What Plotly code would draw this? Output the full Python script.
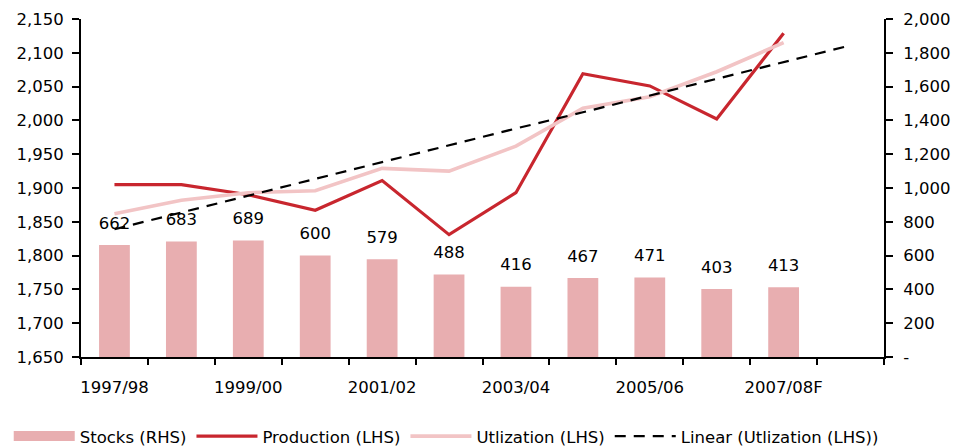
import plotly.graph_objects as go

categories = ["1997/98", "1998/99", "1999/00", "2000/01", "2001/02", "2002/03",
              "2003/04", "2004/05", "2005/06", "2006/07", "2007/08F", "2008/09F"]
tick_labels = ["1997/98", "", "1999/00", "", "2001/02", "", "2003/04", "",
               "2005/06", "", "2007/08F", ""]
stocks = [662, 683, 689, 600, 579, 488, 416, 467, 471, 403, 413]
production = [1905, 1905, 1890, 1867, 1911, 1831, 1893, 2069, 2051, 2002, 2129]
utilization = [1862, 1882, 1893, 1896, 1929, 1925, 1962, 2018, 2035, 2072, 2115]
linear_trend = [1839, 1864, 1889, 1913, 1938, 1963, 1988, 2012, 2037, 2062, 2087, 2111]
rhs_ticks = [0, 200, 400, 600, 800, 1000, 1200, 1400, 1600, 1800, 2000]
rhs_ticktext = ["-", "200", "400", "600", "800", "1,000", "1,200", "1,400", "1,600", "1,800", "2,000"]
lhs_ticks = [1650, 1700, 1750, 1800, 1850, 1900, 1950, 2000, 2050, 2100, 2150]

FONT = "DejaVu Sans"
FS = 16.5
BAR_COLOR = "#E8AEB0"
fig = go.Figure()

fig.add_trace(go.Bar(
    x=categories[:len(stocks)], y=stocks, name="Stocks (RHS)",
    marker=dict(color=BAR_COLOR, line=dict(width=0)), width=0.46,
    yaxis="y", showlegend=False,
))
fig.add_trace(go.Scatter(
    x=categories[:len(stocks)], y=stocks, mode="markers+text",
    text=[str(v) for v in stocks], textposition="top center",
    textfont=dict(family=FONT, size=FS, color="#000000"),
    marker=dict(size=18, opacity=0), yaxis="y", showlegend=False, hoverinfo="skip",
    cliponaxis=False,
))
# legend proxy for the bar series (wide swatch)
fig.add_trace(go.Scatter(
    x=[None], y=[None], name="Stocks (RHS)", mode="lines",
    line=dict(color=BAR_COLOR, width=12), yaxis="y", showlegend=True,
))
fig.add_trace(go.Scatter(
    x=categories[:len(production)], y=production, name="Production (LHS)",
    mode="lines", line=dict(color="#C8262E", width=3.2), yaxis="y2",
))
fig.add_trace(go.Scatter(
    x=categories[:len(utilization)], y=utilization, name="Utlization (LHS)",
    mode="lines", line=dict(color="#F2C4C5", width=3.6), yaxis="y2",
))
fig.add_trace(go.Scatter(
    x=categories, y=linear_trend, name="Linear (Utlization (LHS))",
    mode="lines", line=dict(color="#000000", width=2.2, dash="11px,8px"), yaxis="y2",
))

fig.update_layout(
    width=955, height=446,
    margin=dict(l=81, r=71, t=19, b=89, autoexpand=False),
    paper_bgcolor="white", plot_bgcolor="white",
    font=dict(family=FONT, size=FS, color="#000000"),
    xaxis=dict(
        type="category", categoryorder="array", categoryarray=categories,
        tickmode="array", tickvals=categories, ticktext=tick_labels,
        tickson="boundaries", ticks="outside", ticklen=6, tickwidth=1.5,
        tickcolor="#000000", showline=True, linecolor="#000000", linewidth=2,
        showgrid=False, zeroline=False, range=[-0.5, 11.5], tickangle=0,
        tickfont=dict(family=FONT, size=FS), ticklabelstandoff=14,
    ),
    yaxis=dict(
        side="right", range=[0, 2000], tickmode="array", tickvals=rhs_ticks,
        ticktext=rhs_ticktext, ticks="outside", ticklen=7, tickwidth=1.5,
        tickcolor="#000000", showline=True, linecolor="#000000", linewidth=2,
        showgrid=False, zeroline=False, tickfont=dict(family=FONT, size=FS),
        ticklabelstandoff=7,
    ),
    yaxis2=dict(
        side="left", overlaying="y", range=[1650, 2150], tickmode="array",
        tickvals=lhs_ticks, ticktext=[f"{v:,}" for v in lhs_ticks],
        ticks="outside", ticklen=7, tickwidth=1.5, tickcolor="#000000",
        showline=True, linecolor="#000000", linewidth=2, showgrid=False,
        zeroline=False, tickfont=dict(family=FONT, size=FS), ticklabelstandoff=5,
    ),
    legend=dict(
        orientation="h", xref="paper", x=-0.09, xanchor="left",
        yref="paper", y=-0.183, yanchor="top",
        font=dict(family=FONT, size=FS), itemwidth=61,
        traceorder="normal", bgcolor="rgba(0,0,0,0)",
    ),
    showlegend=True,
)

fig.write_html("out.html")
